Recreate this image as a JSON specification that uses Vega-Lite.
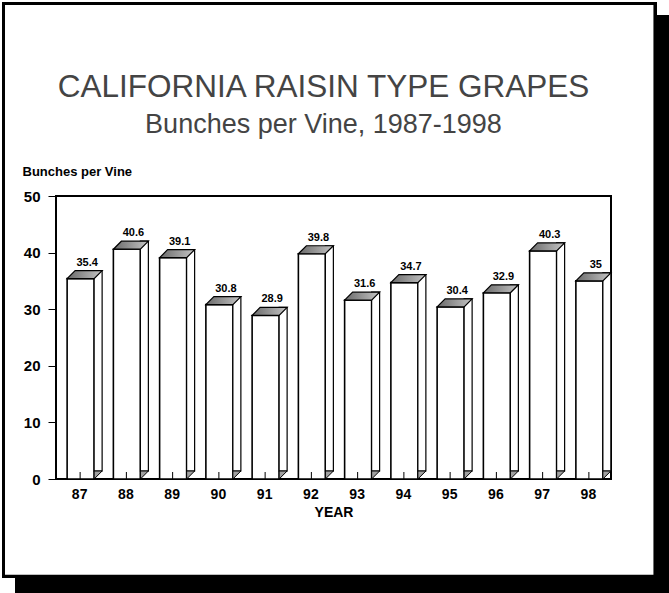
{
  "$schema": "https://vega.github.io/schema/vega-lite/v6.json",
  "width": 555,
  "height": 283,
  "autosize": "none",
  "padding": {"left": 56, "top": 196, "right": 58, "bottom": 114},
  "background": "white",
  "config": {
    "view": {"stroke": null},
    "font": "Liberation Sans"
  },
  "title": {
    "text": "CALIFORNIA RAISIN TYPE GRAPES",
    "subtitle": "Bunches per Vine, 1987-1998",
    "anchor": "middle",
    "dx": -10,
    "offset": -136,
    "font": "Liberation Sans",
    "fontSize": 31.5,
    "fontWeight": "normal",
    "color": "#444444",
    "subtitleFont": "Liberation Sans",
    "subtitleFontSize": 27,
    "subtitleColor": "#444444",
    "subtitlePadding": 9
  },
  "data": {
    "values": [
      {"year": 87, "bunches": 35.4},
      {"year": 88, "bunches": 40.6},
      {"year": 89, "bunches": 39.1},
      {"year": 90, "bunches": 30.8},
      {"year": 91, "bunches": 28.9},
      {"year": 92, "bunches": 39.8},
      {"year": 93, "bunches": 31.6},
      {"year": 94, "bunches": 34.7},
      {"year": 95, "bunches": 30.4},
      {"year": 96, "bunches": 32.9},
      {"year": 97, "bunches": 40.3},
      {"year": 98, "bunches": 35}
    ]
  },
  "layer": [
    {
      "mark": {"type": "rect", "fill": "black", "stroke": null},
      "encoding": {
        "x": {"datum": 85.614, "type": "quantitative"},
        "x2": {"datum": 99.754},
        "y": {"datum": 81.98, "type": "quantitative"},
        "y2": {"datum": -20.14}
      }
    },
    {
      "mark": {"type": "rect", "fill": "white", "stroke": "black", "strokeWidth": 3},
      "encoding": {
        "x": {"datum": 85.365, "type": "quantitative"},
        "x2": {"datum": 99.45},
        "y": {"datum": 84.0, "type": "quantitative"},
        "y2": {"datum": -17.2}
      }
    },
    {
      "mark": {"type": "rect", "fill": null, "stroke": "black", "strokeWidth": 1.5},
      "encoding": {
        "x": {"datum": 86.5, "type": "quantitative"},
        "x2": {"datum": 98.5},
        "y": {"datum": 0, "type": "quantitative"},
        "y2": {"datum": 50}
      }
    },
    {
      "mark": {"type": "bar", "width": 27, "xOffset": 1.5, "fill": "white", "stroke": "black", "strokeWidth": 1.6},
      "encoding": {
        "x": {
          "field": "year",
          "type": "quantitative",
          "scale": {"domain": [86.5, 98.5], "nice": false, "zero": false, "padding": 0},
          "axis": {
            "values": [87, 88, 89, 90, 91, 92, 93, 94, 95, 96, 97, 98],
            "format": "d",
            "domain": false,
            "grid": false,
            "ticks": false,
            "labelPadding": 8,
            "labelFont": "Liberation Sans",
            "labelFontSize": 14,
            "labelFontWeight": "bold",
            "labelColor": "black",
            "title": "YEAR",
            "titleFont": "Liberation Sans",
            "titleFontSize": 14,
            "titleFontWeight": "bold",
            "titleColor": "black",
            "titlePadding": 4,
            "zindex": 1
          }
        },
        "y": {
          "field": "bunches",
          "type": "quantitative",
          "scale": {"domain": [0, 50], "nice": false, "padding": 0},
          "axis": {
            "values": [0, 5, 10, 15, 20, 25, 30, 35, 40, 45, 50],
            "labelExpr": "datum.value % 10 === 0 ? datum.label : ''",
            "domain": false,
            "grid": false,
            "tickColor": "black",
            "tickWidth": 1,
            "tickSize": {"condition": {"test": "datum.value % 10 === 0", "value": 8}, "value": 5},
            "labelPadding": 8,
            "labelFont": "Liberation Sans",
            "labelFontSize": 15,
            "labelFontWeight": "bold",
            "labelColor": "black",
            "title": "Bunches per Vine",
            "titleAngle": 0,
            "titleAlign": "left",
            "titleBaseline": "alphabetic",
            "titleX": -34,
            "titleY": -21,
            "titleFont": "Liberation Sans",
            "titleFontSize": 13,
            "titleFontWeight": "bold",
            "titleColor": "black",
            "zindex": 1
          }
        }
      }
    },
    {
      "mark": {"type": "bar", "width": 8, "xOffset": 19, "yOffset": -8, "y2Offset": -8, "fill": "white", "stroke": "black", "strokeWidth": 1.2},
      "encoding": {
        "x": {"field": "year", "type": "quantitative"},
        "y": {"field": "bunches", "type": "quantitative"}
      }
    },
    {
      "mark": {
        "type": "point",
        "shape": "M-12,0L15,0L23,-8L-4,-8Z",
        "size": 4,
        "filled": true,
        "opacity": 1,
        "fill": {"gradient": "linear", "x1": 0, "y1": 0, "x2": 1, "y2": 0, "stops": [{"offset": 0, "color": "#6a6a6a"}, {"offset": 1, "color": "#c4c4c4"}]},
        "stroke": "black",
        "strokeWidth": 1.2
      },
      "encoding": {
        "x": {"field": "year", "type": "quantitative"},
        "y": {"field": "bunches", "type": "quantitative"}
      }
    },
    {
      "mark": {
        "type": "point",
        "shape": "M15,0L15,-8L23,-8Z",
        "size": 4,
        "filled": true,
        "opacity": 1,
        "fill": "#a0a0a0",
        "stroke": "black",
        "strokeWidth": 1
      },
      "encoding": {
        "x": {"field": "year", "type": "quantitative"},
        "y": {"datum": 0, "type": "quantitative"}
      }
    },
    {
      "mark": {"type": "tick", "orient": "vertical", "size": 7, "thickness": 1, "yOffset": -3.5, "xOffset": 1, "color": "black", "opacity": 1},
      "encoding": {
        "x": {"field": "year", "type": "quantitative"},
        "y": {"datum": 0, "type": "quantitative"}
      }
    },
    {
      "mark": {"type": "text", "dx": 8, "dy": -13, "baseline": "alphabetic", "font": "Liberation Sans", "fontSize": 11, "fontWeight": "bold", "color": "black"},
      "encoding": {
        "x": {"field": "year", "type": "quantitative"},
        "y": {"field": "bunches", "type": "quantitative"},
        "text": {"field": "bunches", "type": "quantitative"}
      }
    }
  ]
}
